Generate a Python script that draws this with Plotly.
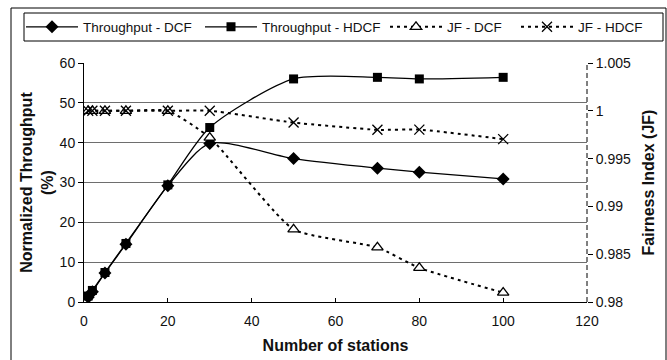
import plotly.graph_objects as go

stations = [1, 2, 5, 10, 20, 30, 50, 70, 80, 100]
thr_dcf = [1.2, 2.6, 7.3, 14.5, 29.2, 39.8, 36.0, 33.6, 32.6, 30.9]
thr_hdcf = [1.5, 2.9, 7.4, 14.7, 29.4, 43.8, 56.0, 56.4, 56.0, 56.4]
jf_dcf = [1.0, 1.0, 1.0, 1.0, 1.0, 0.9972, 0.98759, 0.98571, 0.98357, 0.98098]
jf_hdcf = [1.0, 1.0, 1.0, 1.0, 1.0, 1.0, 0.99877, 0.99801, 0.99803, 0.99704]

x_ticks = [0, 20, 40, 60, 80, 100, 120]
y_ticks = [0, 10, 20, 30, 40, 50, 60]
y2_ticks = [0.98, 0.985, 0.99, 0.995, 1.0, 1.005]
y2_labels = ["0.98", "0.985", "0.99", "0.995", "1", "1.005"]

FONT = "Liberation Sans, Arial, sans-serif"

# plot area geometry (px) used to place legends/border in paper coords
L, R, T, B, W, H = 84, 80, 63, 58, 667, 360
PW, PH = W - L - R, H - T - B


def px_x(px):
    return (px - L) / PW


def px_y(py):
    return (H - B - py) / PH


fig = go.Figure()
fig.add_trace(go.Scatter(
    x=stations, y=thr_dcf, name="Throughput - DCF", mode="lines+markers",
    legend="legend",
    line=dict(color="black", width=1.3, shape="spline", smoothing=0.7),
    marker=dict(symbol="diamond", size=10, color="black")))
fig.add_trace(go.Scatter(
    x=stations, y=thr_hdcf, name="Throughput - HDCF", mode="lines+markers",
    legend="legend2",
    line=dict(color="black", width=1.3, shape="spline", smoothing=0.7),
    marker=dict(symbol="square", size=9, color="black")))
fig.add_trace(go.Scatter(
    x=stations, y=jf_dcf, name="JF - DCF", mode="lines+markers", yaxis="y2",
    legend="legend3",
    line=dict(color="black", width=2, dash="3px,4px", shape="spline", smoothing=0.5),
    marker=dict(symbol="triangle-up", size=10, color="white",
                line=dict(color="black", width=1.3))))
fig.add_trace(go.Scatter(
    x=stations, y=jf_hdcf, name="JF - HDCF", mode="lines+markers", yaxis="y2",
    legend="legend4",
    line=dict(color="black", width=2, dash="3px,4px", shape="spline", smoothing=0.5),
    marker=dict(symbol="x-thin", size=10, color="black",
                line=dict(color="black", width=1.3))))

# outer chart border
fig.add_shape(type="rect", xref="paper", yref="paper",
              x0=px_x(11), x1=px_x(666), y0=px_y(365), y1=px_y(8),
              line=dict(color="black", width=1), layer="below")
# legend box
fig.add_shape(type="rect", xref="paper", yref="paper",
              x0=px_x(24), x1=px_x(663), y0=px_y(41), y1=px_y(13),
              line=dict(color="black", width=1), fillcolor="white", layer="below")
# dashed right axis line
fig.add_shape(type="line", xref="paper", yref="paper", x0=1, x1=1, y0=0, y1=1,
              line=dict(color="black", width=1, dash="5px,3px"))

leg_common = dict(orientation="h", yanchor="middle", y=px_y(27), xanchor="left",
                  bgcolor="rgba(0,0,0,0)", borderwidth=0,
                  font=dict(size=13.5, family=FONT, color="#111"), itemwidth=52)
legend_lefts = [21, 200, 385, 516]

fig.update_layout(
    width=W, height=H,
    margin=dict(l=L, r=R, t=T, b=B, autoexpand=False),
    paper_bgcolor="white", plot_bgcolor="white",
    font=dict(family=FONT, size=14, color="#111"),
    showlegend=True,
    legend=dict(x=px_x(legend_lefts[0]), **leg_common),
    legend2=dict(x=px_x(legend_lefts[1]), **leg_common),
    legend3=dict(x=px_x(legend_lefts[2]), **leg_common),
    legend4=dict(x=px_x(legend_lefts[3]), **leg_common),
    xaxis=dict(range=[0, 120], tickvals=x_ticks, showgrid=False, zeroline=False,
               showline=True, linecolor="black", linewidth=1, automargin=False,
               ticks="inside", ticklen=4, tickcolor="black", ticklabelstandoff=6,
               title=dict(text="<b>Number of stations</b>", standoff=12,
                          font=dict(size=16))),
    yaxis=dict(range=[0, 60], tickvals=y_ticks, showgrid=True, gridcolor="#6e6e6e",
               gridwidth=1, zeroline=False, showline=True, linecolor="black",
               linewidth=1, ticks="outside", ticklen=5, tickcolor="black",
               automargin=False,
               title=dict(text="<b>Normalized Throughput<br>(%)</b>", standoff=2,
                          font=dict(size=16))),
    yaxis2=dict(range=[0.98, 1.005], tickvals=y2_ticks, ticktext=y2_labels,
                overlaying="y", side="right", showgrid=False, zeroline=False,
                showline=False, ticks="outside", ticklen=5, tickcolor="black",
                automargin=False,
                title=dict(text="<b>Fairness Index (JF)</b>", standoff=12,
                           font=dict(size=16))),
)

fig.write_html("out.html")
